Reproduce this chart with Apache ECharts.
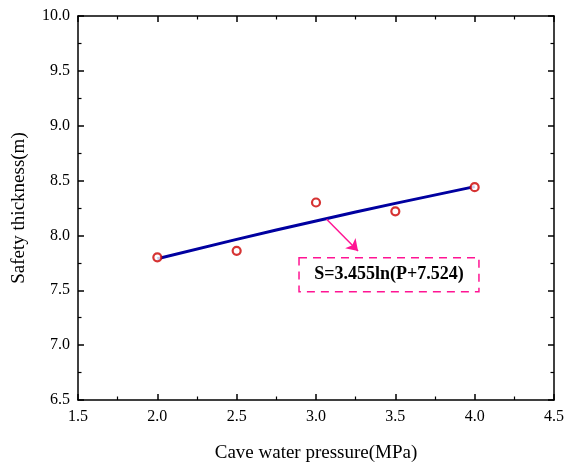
<!DOCTYPE html>
<html><head><meta charset="utf-8">
<script src="https://cdn.jsdelivr.net/npm/echarts@6/dist/echarts.min.js"></script>
<style>html,body{margin:0;padding:0;background:#fff}#c{width:565px;height:463px}</style>
</head><body><div id="c"></div>
<script>
const pressure = [2.0, 2.5, 3.0, 3.5, 4.0];
const thickness = [7.80, 7.86, 8.30, 8.22, 8.44];
const fitPressure = [2.0, 2.5, 3.0, 3.5, 4.0];
const fitThickness = [7.787, 7.964, 8.132, 8.292, 8.445];
const equationText = 'S=3.455ln(P+7.524)';
const arrowFrom = [3.067, 8.147];
const arrowTo = [3.265, 7.858];
const boxCorners = [[2.893, 7.797], [4.027, 7.487]];

const font = 'Liberation Serif';
const chart = echarts.init(document.getElementById('c'));
const axCommon = {
  axisLine: {show: true, onZero: false, lineStyle: {color: '#000', width: 1.5}},
  axisTick: {show: true, inside: true, length: 6, lineStyle: {color: '#000', width: 1.5}},
  minorTick: {show: true, splitNumber: 2, length: 3.5, lineStyle: {color: '#000', width: 1.2}},
  splitLine: {show: false}
};
chart.setOption({
  animation: false,
  grid: {left: 78, right: 11, top: 16, bottom: 63, containLabel: false, outerBoundsMode: 'none'},
  xAxis: [
    Object.assign({type: 'value', min: 1.5, max: 4.5, interval: 0.5, position: 'bottom',
      name: 'Cave water pressure(MPa)', nameLocation: 'middle', nameGap: 44,
      nameTextStyle: {fontFamily: font, fontSize: 19, color: '#000'},
      axisLabel: {fontFamily: font, fontSize: 16, color: '#000', margin: 9,
        formatter: v => v.toFixed(1)}}, axCommon),
    Object.assign({type: 'value', min: 1.5, max: 4.5, interval: 0.5, position: 'top',
      axisLabel: {show: false}}, axCommon)
  ],
  yAxis: [
    Object.assign({type: 'value', min: 6.5, max: 10.0, interval: 0.5, position: 'left',
      name: 'Safety thickness(m)', nameLocation: 'middle', nameGap: 49,
      nameTextStyle: {fontFamily: font, fontSize: 19, color: '#000'},
      axisLabel: {fontFamily: font, fontSize: 16, color: '#000', margin: 8,
        formatter: v => v.toFixed(1)}}, axCommon),
    Object.assign({type: 'value', min: 6.5, max: 10.0, interval: 0.5, position: 'right',
      axisLabel: {show: false}}, axCommon)
  ],
  series: [
    {
      type: 'line', name: 'fit', data: fitPressure.map((p, i) => [p, fitThickness[i]]),
      smooth: true, symbol: 'none', lineStyle: {color: '#0000A0', width: 3}, z: 2,
      markLine: {
        silent: true, symbol: ['none', 'arrow'], symbolSize: 11,
        lineStyle: {color: '#FF1493', width: 1.5, type: 'solid'}, label: {show: false},
        data: [[{coord: arrowFrom}, {coord: arrowTo}]]
      },
      markArea: {
        silent: true,
        itemStyle: {color: 'rgba(0,0,0,0)', borderColor: '#FF1493', borderWidth: 1.5, borderType: [8, 6]},
        label: {show: true, position: 'inside', formatter: equationText,
          fontFamily: font, fontSize: 18, fontWeight: 'bold', color: '#000'},
        data: [[{coord: boxCorners[0]}, {coord: boxCorners[1]}]]
      }
    },
    {
      type: 'scatter', name: 'data', data: pressure.map((p, i) => [p, thickness[i]]),
      symbol: 'circle', symbolSize: 8,
      itemStyle: {color: '#fff', borderColor: '#CC0000', borderWidth: 2.2}, z: 3
    }
  ]
});
</script></body></html>
